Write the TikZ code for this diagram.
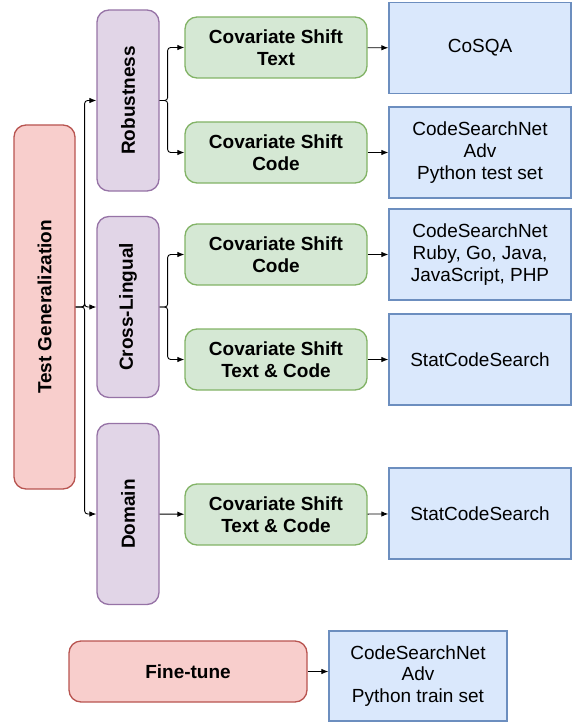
\documentclass[tikz,border=0pt]{standalone}
\usepackage{fontspec}
\setmainfont{Liberation Sans}
\usepackage{tikz}
\usetikzlibrary{arrows.meta}
\definecolor{redfill}{HTML}{F8CECC}
\definecolor{redline}{HTML}{B85450}
\definecolor{purplefill}{HTML}{E1D5E7}
\definecolor{purpleline}{HTML}{9673A6}
\definecolor{greenfill}{HTML}{D5E8D4}
\definecolor{greenline}{HTML}{82B366}
\definecolor{bluefill}{HTML}{DAE8FC}
\definecolor{blueline}{HTML}{6C8EBF}
\tikzset{every node/.style={font=\fontsize{19}{21.7}\selectfont,align=center,inner sep=0pt}}
\tikzset{rootbox/.style={draw=redline,fill=redfill,line width=1.3pt,rounded corners=12pt,font=\fontsize{19}{21.7}\selectfont\bfseries}}
\tikzset{groupbox/.style={draw=purpleline,fill=purplefill,line width=1.3pt,rounded corners=12pt,rotate=90,minimum width=181pt,minimum height=62pt,font=\fontsize{19}{21.7}\selectfont\bfseries}}
\tikzset{shiftbox/.style={draw=greenline,fill=greenfill,line width=1.3pt,rounded corners=12pt,minimum width=182pt,minimum height=61pt,font=\fontsize{19}{21.7}\selectfont\bfseries}}
\tikzset{databox/.style={draw=blueline,fill=bluefill,line width=1.3pt,minimum width=182pt,minimum height=91pt}}
\tikzset{link/.style={-{Latex[length=7pt,width=5.5pt]},line width=0.9pt,rounded corners=3pt}}

\begin{document}
\begin{tikzpicture}[x=1pt,y=-1pt]
    \useasboundingbox (0,0) rectangle (573,722);
    % setup the nodes
    \node[rootbox,rotate=90,minimum width=364pt,minimum height=61pt] (testgen) at (44.5,307) {Test Generalization};
    \foreach \name/\y/\mytext in {robust/100.5/Robustness,cross/307/Cross-Lingual,domain/514/Domain}
    {
        \node[groupbox] (\name) at (128,\y) {\mytext};
    }
    \foreach \i/\y/\mytext in {1/47.5/{Covariate Shift\\Text},2/152.5/{Covariate Shift\\Code},3/254.5/{Covariate Shift\\Code},4/359.5/{Covariate Shift\\Text \& Code},5/514.5/{Covariate Shift\\Text \& Code}}
    {
        \node[shiftbox] (shift-\i) at (276,\y) {\mytext};
    }
    \foreach \i/\y/\mytext in {1/48/CoSQA,2/152.5/{CodeSearchNet\\Adv\\Python test set},3/254.5/{CodeSearchNet\\Ruby, Go, Java,\\JavaScript, PHP},4/359.5/StatCodeSearch,5/513.5/StatCodeSearch}
    {
        \node[databox] (data-\i) at (480,\y) {\mytext};
    }
    \node[rootbox,minimum width=238pt,minimum height=61pt] (finetune) at (188,671.5) {Fine-tune};
    \node[databox,minimum width=178pt,minimum height=90pt] (finedata) at (418,676) {CodeSearchNet\\Adv\\Python train set};
    % connect the tree
    \foreach \mynode in {robust,cross,domain}
    {
        \draw[link] (testgen.south) -- ++(9,0) |- (\mynode);
    }
    \foreach \a/\b in {robust/shift-1,robust/shift-2,cross/shift-3,cross/shift-4}
    {
        \draw[link] (\a.south) -- ++(8,0) |- (\b);
    }
    \draw[link] (domain) -- (shift-5);
    \foreach \i in {1,...,5}
    {
        \draw[link] (shift-\i) -- (data-\i);
    }
    \draw[link] (finetune.east) -- (finetune.east -| finedata.west);
\end{tikzpicture}
\end{document}
